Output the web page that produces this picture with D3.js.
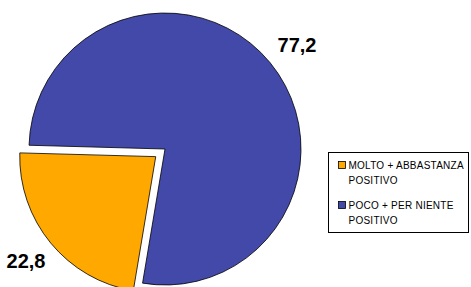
<!DOCTYPE html>
<html>
<head>
<meta charset="utf-8">
<script src="https://cdn.jsdelivr.net/npm/d3@7"></script>
<style>
  body { margin: 0; background: #fff; }
  svg { display: block; font-family: Arial, "Liberation Sans", sans-serif; }
</style>
</head>
<body>
<svg id="chart" width="471" height="287"></svg>
<script>
// Data
const categories = ['MOLTO + ABBASTANZA POSITIVO', 'POCO + PER NIENTE POSITIVO'];
const values = [22.8, 77.2];
const valueLabels = ['22,8', '77,2'];
const legendLines = [['MOLTO + ABBASTANZA', 'POSITIVO'], ['POCO + PER NIENTE', 'POSITIVO']];
const colors = ['#ffa900', '#4349a9'];

const
  cx = 165, cy = 149, // pie centre
  radius = 136,
  explode = 12, // offset of the pulled-out slice
  startDeg = 189.5; // where the orange slice begins (clockwise from top)

const svg = d3.select('#chart');

const pie = d3.pie().
  sort(null).
  startAngle(startDeg * Math.PI / 180).
  endAngle(startDeg * Math.PI / 180 + 2 * Math.PI);

const arc = d3.arc().innerRadius(0).outerRadius(radius);
const slices = pie(values);

svg.append('g').
  attr('transform', 'translate(' + cx + ',' + cy + ')').
  selectAll('path').
  data(slices).
  join('path').
  attr('d', arc).
  attr('transform', (d, i) => {
    if (i !== 0) return null;
    const mid = (d.startAngle + d.endAngle) / 2;
    return 'translate(' + explode * Math.sin(mid) + ',' + -explode * Math.cos(mid) + ')';
  }).
  attr('fill', (d, i) => colors[i]).
  attr('stroke', '#000').
  attr('stroke-width', 0.8);

// value labels
const labelPos = [[26, 268], [297, 52]];
svg.selectAll('text.value').
  data(valueLabels).
  join('text').
  attr('class', 'value').
  attr('x', (d, i) => labelPos[i][0]).
  attr('y', (d, i) => labelPos[i][1]).
  attr('text-anchor', 'middle').
  style('font-size', '20px').
  style('font-weight', 'bold').
  attr('fill', '#000').
  text(d => d);

// legend
const legend = svg.append('g');
legend.append('rect').
  attr('x', 328.5).
  attr('y', 152.5).
  attr('width', 140).
  attr('height', 80).
  attr('fill', '#fff').
  attr('stroke', '#000').
  attr('stroke-width', 1);

const items = legend.selectAll('g.item').
  data(categories).
  join('g').
  attr('class', 'item').
  attr('transform', (d, i) => 'translate(0,' + (i * 40) + ')');

items.append('rect').
  attr('x', 338.5).
  attr('y', 161.5).
  attr('width', 7).
  attr('height', 7).
  attr('fill', (d, i) => colors[i]).
  attr('stroke', '#000').
  attr('stroke-width', 0.8);

items.append('text').
  attr('y', 169).
  style('font-size', '10px').
  style('letter-spacing', '0.25px').
  attr('fill', '#000').
  selectAll('tspan').
  data((d, i) => legendLines[i]).
  join('tspan').
  attr('x', 348.5).
  attr('dy', (d, j) => j === 0 ? 0 : 15).
  text(d => d);
</script>
</body>
</html>
